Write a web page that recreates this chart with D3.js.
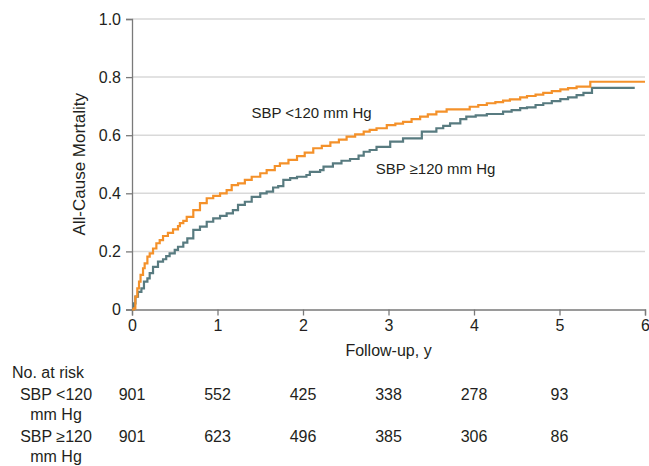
<!DOCTYPE html>
<html>
<head>
<meta charset="utf-8">
<script src="https://cdn.jsdelivr.net/npm/d3@7"></script>
<style>
  body { margin: 0; background: #fff; }
  text { font-family: "Liberation Sans", Arial, sans-serif; fill: #231f20; }
</style>
</head>
<body>
<div id="chart"></div>
<script>
// follow-up times (years) and cumulative mortality
var timesLow = [0, 0.023, 0.039, 0.062, 0.082, 0.10, 0.129, 0.148, 0.18, 0.207, 0.246, 0.285, 0.324, 0.363, 0.42, 0.48, 0.538, 0.56, 0.60, 0.64, 0.717, 0.795, 0.874, 0.95, 1.03, 1.107, 1.166, 1.24, 1.32, 1.40, 1.50, 1.575, 1.67, 1.73, 1.83, 1.93, 2.02, 2.12, 2.22, 2.32, 2.42, 2.51, 2.61, 2.71, 2.78, 2.86, 2.98, 3.08, 3.17, 3.27, 3.37, 3.46, 3.56, 3.68, 3.95, 4.05, 4.15, 4.25, 4.34, 4.42, 4.54, 4.62, 4.72, 4.81, 4.91, 5.01, 5.10, 5.20, 5.36, 6.0];
var mortLow  = [0, 0.004, 0.044, 0.073, 0.096, 0.119, 0.142, 0.159, 0.182, 0.193, 0.21, 0.228, 0.239, 0.253, 0.264, 0.276, 0.287, 0.297, 0.305, 0.319, 0.342, 0.366, 0.383, 0.391, 0.40, 0.411, 0.428, 0.434, 0.446, 0.457, 0.469, 0.48, 0.494, 0.503, 0.515, 0.528, 0.54, 0.555, 0.563, 0.575, 0.585, 0.595, 0.603, 0.612, 0.618, 0.624, 0.635, 0.64, 0.646, 0.655, 0.664, 0.672, 0.681, 0.689, 0.698, 0.704, 0.71, 0.714, 0.719, 0.723, 0.73, 0.735, 0.74, 0.746, 0.752, 0.758, 0.762, 0.767, 0.784, 0.784];

var timesHigh = [0, 0.023, 0.04, 0.07, 0.11, 0.14, 0.18, 0.207, 0.246, 0.304, 0.363, 0.40, 0.44, 0.50, 0.538, 0.60, 0.647, 0.717, 0.795, 0.874, 0.95, 1.03, 1.107, 1.18, 1.24, 1.32, 1.40, 1.50, 1.575, 1.65, 1.71, 1.77, 1.85, 1.93, 2.04, 2.08, 2.20, 2.24, 2.35, 2.45, 2.55, 2.65, 2.71, 2.78, 2.86, 3.02, 3.17, 3.39, 3.56, 3.64, 3.72, 3.84, 3.91, 4.02, 4.15, 4.34, 4.44, 4.54, 4.62, 4.72, 4.81, 4.91, 5.01, 5.10, 5.20, 5.28, 5.38, 5.88];
var mortHigh  = [0, 0.021, 0.044, 0.061, 0.073, 0.096, 0.107, 0.125, 0.147, 0.165, 0.173, 0.184, 0.193, 0.205, 0.216, 0.23, 0.245, 0.274, 0.285, 0.302, 0.314, 0.322, 0.331, 0.342, 0.36, 0.371, 0.388, 0.40, 0.406, 0.42, 0.425, 0.446, 0.452, 0.457, 0.463, 0.474, 0.48, 0.492, 0.503, 0.512, 0.518, 0.53, 0.543, 0.549, 0.56, 0.578, 0.589, 0.612, 0.624, 0.632, 0.641, 0.655, 0.664, 0.668, 0.673, 0.681, 0.686, 0.693, 0.696, 0.704, 0.71, 0.717, 0.724, 0.73, 0.738, 0.746, 0.763, 0.763];

var xTicks = [0, 1, 2, 3, 4, 5, 6];
var yTicks = [0, 0.2, 0.4, 0.6, 0.8, 1.0];

var riskTimes = [0, 1, 2, 3, 4, 5];
var riskLow  = [901, 552, 425, 338, 278, 93];
var riskHigh = [901, 623, 496, 385, 306, 86];

var colorLow = "#f4912a",
    colorHigh = "#587b80";

var margin = {top: 19, right: 4, bottom: 156.5, left: 132},
    width = 649 - margin.left - margin.right,
    height = 466 - margin.top - margin.bottom;

var svg = d3.select("#chart")
  .append("svg")
  .attr("width", 649)
  .attr("height", 466);

var g = svg.append("g")
  .attr("transform", "translate(" + margin.left + "," + margin.top + ")");

var x = d3.scaleLinear().domain([0, 6]).range([0, width]);
var y = d3.scaleLinear().domain([0, 1]).range([height, 0]);

// gridlines
g.selectAll(".grid")
  .data(yTicks.filter(function(d) { return d > 0; }))
  .enter().append("line")
    .attr("x1", 0)
    .attr("x2", width)
    .attr("y1", function(d) { return y(d); })
    .attr("y2", function(d) { return y(d); })
    .attr("stroke", "#d9d9d9")
    .attr("stroke-width", 1.5);

// axes
var yAxis = g.append("g")
  .call(d3.axisLeft(y).tickValues(yTicks).tickSize(6).tickPadding(5)
    .tickFormat(function(d) { return d === 0 ? "0" : d3.format(".1f")(d); }));

var xAxis = g.append("g")
  .attr("transform", "translate(0," + height + ")")
  .call(d3.axisBottom(x).tickValues(xTicks).tickSize(6).tickPadding(4).tickFormat(d3.format("d")));

[xAxis, yAxis].forEach(function(a) {
  a.selectAll("path, line").attr("stroke", "#7a7a7a").attr("stroke-width", 1.3);
  a.selectAll("text").style("font-size", "16px").attr("fill", "#231f20")
    .style("font-family", "'Liberation Sans', Arial, sans-serif");
});

// curves
var line = d3.line()
  .x(function(d) { return x(d[0]); })
  .y(function(d) { return y(d[1]); })
  .curve(d3.curveStepAfter);

g.append("path")
  .datum(d3.zip(timesHigh, mortHigh))
  .attr("fill", "none")
  .attr("stroke", colorHigh)
  .attr("stroke-width", 2.2)
  .attr("d", line);

g.append("path")
  .datum(d3.zip(timesLow, mortLow))
  .attr("fill", "none")
  .attr("stroke", colorLow)
  .attr("stroke-width", 2.2)
  .attr("d", line);

// curve labels
g.append("text")
  .attr("x", x(2.1)).attr("y", y(0.66))
  .attr("text-anchor", "middle")
  .style("font-size", "15px")
  .text("SBP <120 mm Hg");

g.append("text")
  .attr("x", x(3.55)).attr("y", y(0.466))
  .attr("text-anchor", "middle")
  .style("font-size", "15px")
  .text("SBP \u2265120 mm Hg");

// axis titles
svg.append("text")
  .attr("transform", "translate(85," + (margin.top + height / 2) + ") rotate(-90)")
  .attr("text-anchor", "middle")
  .style("font-size", "17px")
  .text("All-Cause Mortality");

svg.append("text")
  .attr("x", margin.left + width / 2)
  .attr("y", 356)
  .attr("text-anchor", "middle")
  .style("font-size", "16px")
  .text("Follow-up, y");

// number at risk table
svg.append("text")
  .attr("x", 12).attr("y", 378)
  .style("font-size", "16px")
  .text("No. at risk");

var rows = [
  {label: "SBP <120", values: riskLow, y: 400},
  {label: "SBP \u2265120", values: riskHigh, y: 442}
];

rows.forEach(function(r) {
  svg.append("text")
    .attr("x", 56).attr("y", r.y)
    .attr("text-anchor", "middle")
    .style("font-size", "16px")
    .text(r.label);
  svg.append("text")
    .attr("x", 56).attr("y", r.y + 20)
    .attr("text-anchor", "middle")
    .style("font-size", "16px")
    .text("mm Hg");
  svg.selectAll(null)
    .data(riskTimes)
    .enter().append("text")
      .attr("x", function(d) { return margin.left + x(d); })
      .attr("y", r.y)
      .attr("text-anchor", "middle")
      .style("font-size", "16px")
      .text(function(d, i) { return r.values[i]; });
});
</script>
</body>
</html>
